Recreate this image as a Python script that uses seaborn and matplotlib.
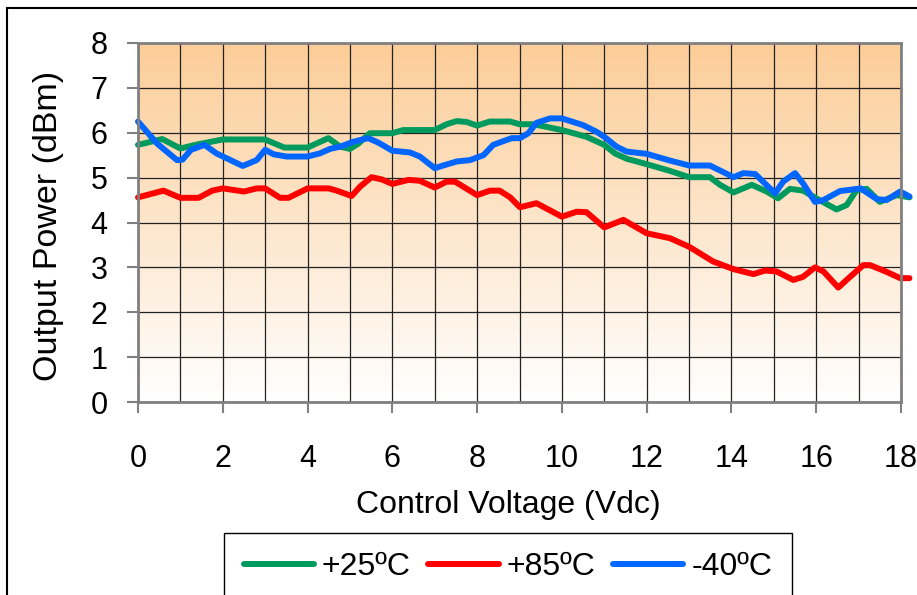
import numpy as np
import pandas as pd
import matplotlib
matplotlib.use("Agg")
import matplotlib.pyplot as plt
import seaborn as sns
from matplotlib.colors import LinearSegmentedColormap
from matplotlib.patches import Rectangle

# datos
v_25 = [0, 0.57, 1.0, 1.4, 2.0, 3.0, 3.45, 4.0, 4.49, 4.77, 5.0, 5.2, 5.47, 6.0, 6.26, 7.0,
        7.28, 7.52, 7.75, 8.0, 8.3, 8.78, 9.0, 9.33, 10.0, 10.58, 11.0, 11.25, 11.53, 12.0,
        12.55, 13.0, 13.49, 13.73, 14.05, 14.48, 14.83, 15.1, 15.38, 15.69, 16.0, 16.48,
        16.72, 16.95, 17.19, 17.5, 17.9, 18.2]
p_25 = [5.73, 5.86, 5.65, 5.74, 5.85, 5.85, 5.67, 5.67, 5.88, 5.69, 5.64, 5.76, 5.99, 5.99,
        6.06, 6.06, 6.19, 6.26, 6.24, 6.16, 6.25, 6.25, 6.19, 6.19, 6.06, 5.91, 5.73, 5.54,
        5.42, 5.30, 5.15, 5.01, 5.01, 4.84, 4.67, 4.84, 4.69, 4.54, 4.75, 4.71, 4.54, 4.29,
        4.39, 4.72, 4.75, 4.46, 4.61, 4.56]

v_85 = [0, 0.6, 1.0, 1.43, 1.75, 2.0, 2.5, 2.8, 3.0, 3.35, 3.55, 4.0, 4.5, 4.69, 5.04, 5.24,
        5.51, 5.75, 6.0, 6.38, 6.65, 7.0, 7.28, 7.48, 8.0, 8.3, 8.53, 8.78, 9.01, 9.4, 10.0,
        10.35, 10.58, 11.0, 11.45, 12.0, 12.55, 13.0, 13.26, 13.57, 14.05, 14.52, 14.79,
        15.06, 15.46, 15.69, 15.97, 16.17, 16.52, 16.8, 17.11, 17.27, 17.66, 17.98, 18.2]
p_85 = [4.56, 4.71, 4.55, 4.55, 4.71, 4.76, 4.69, 4.76, 4.76, 4.55, 4.55, 4.76, 4.76, 4.71,
        4.59, 4.80, 5.01, 4.96, 4.86, 4.95, 4.93, 4.78, 4.91, 4.91, 4.61, 4.71, 4.71, 4.56,
        4.34, 4.43, 4.13, 4.24, 4.23, 3.89, 4.06, 3.76, 3.65, 3.46, 3.31, 3.13, 2.96, 2.85,
        2.93, 2.91, 2.72, 2.79, 3.00, 2.91, 2.55, 2.79, 3.05, 3.05, 2.90, 2.76, 2.76]

v_m40 = [0, 0.45, 0.92, 1.05, 1.25, 1.57, 1.85, 2.47, 2.8, 3.0, 3.2, 3.5, 4.0, 4.29, 4.53,
         4.77, 5.08, 5.43, 5.67, 6.0, 6.42, 6.65, 7.0, 7.2, 7.52, 7.83, 8.15, 8.38, 8.58,
         8.82, 9.01, 9.21, 9.4, 9.72, 10.0, 10.5, 10.82, 11.0, 11.29, 11.53, 12.0, 12.55,
         13.0, 13.49, 14.05, 14.28, 14.56, 15.03, 15.22, 15.5, 15.69, 15.97, 16.17, 16.56,
         17.05, 17.43, 17.66, 17.98, 18.2]
p_m40 = [6.25, 5.76, 5.39, 5.40, 5.62, 5.73, 5.54, 5.26, 5.39, 5.62, 5.52, 5.47, 5.47, 5.54,
         5.64, 5.69, 5.80, 5.88, 5.78, 5.60, 5.56, 5.47, 5.21, 5.27, 5.36, 5.39, 5.50, 5.73,
         5.80, 5.88, 5.88, 5.99, 6.22, 6.32, 6.32, 6.17, 6.02, 5.91, 5.69, 5.58, 5.53, 5.38,
         5.27, 5.27, 5.01, 5.10, 5.08, 4.65, 4.91, 5.10, 4.87, 4.46, 4.50, 4.70, 4.76, 4.52,
         4.50, 4.69, 4.58]

series = ["+25ºC", "+85ºC", "-40ºC"]
colores = {"+25ºC": "#009A5E", "+85ºC": "#FF0000", "-40ºC": "#0066FF"}

df = pd.concat([
    pd.DataFrame({"v": v_25, "p": p_25, "temp": series[0]}),
    pd.DataFrame({"v": v_85, "p": p_85, "temp": series[1]}),
    pd.DataFrame({"v": v_m40, "p": p_m40, "temp": series[2]}),
], ignore_index=True)

sns.set_style("white")
plt.rcParams["font.family"] = ["Liberation Sans", "DejaVu Sans"]
plt.rcParams["text.color"] = "black"
plt.rcParams["axes.labelcolor"] = "black"

fig = plt.figure(figsize=(9.17, 5.95), dpi=100)
ax = fig.add_axes([138 / 917, 1 - 402 / 595, 763 / 917, 359 / 595])

# fondo degradado naranja -> blanco
grad = np.linspace(1, 0, 256).reshape(-1, 1)
cmap = LinearSegmentedColormap.from_list("fondo", ["#FFFFFF", "#FCCD98"])
ax.imshow(grad, cmap=cmap, extent=[0, 18, 0, 8], aspect="auto", zorder=0, origin="upper")

sns.lineplot(data=df, x="v", y="p", hue="temp", hue_order=series, palette=colores,
             estimator=None, sort=False, lw=4.3, ax=ax)
for ln in ax.lines:
    ln.set_clip_on(False)

ax.set_xlim(0, 18)
ax.set_ylim(0, 8)
ax.set_xticks(np.arange(0, 19, 2))
ax.set_xticks(np.arange(0, 19, 1), minor=True)
ax.set_yticks(np.arange(0, 9, 1))
ax.set_axisbelow(True)
ax.grid(True, which="both", color="#222222", lw=0.9)

ax.tick_params(axis="x", which="major", bottom=True, direction="out", length=8, width=1.5,
               color="#808080", labelcolor="black", pad=22, labelsize=22)
ax.tick_params(axis="x", which="minor", length=0)
ax.tick_params(axis="y", left=True, direction="out", length=8, width=1.5,
               color="#808080", labelcolor="black", pad=14, labelsize=22)
for s in ax.spines.values():
    s.set_color("#808080")
    s.set_linewidth(2)

ax.set_xlabel("Control Voltage (Vdc)", fontsize=23)
ax.set_ylabel("Output Power (dBm)", fontsize=24.5)
ax.xaxis.set_label_coords((508 - 138) / 763, (402 - 490) / 359)
ax.yaxis.set_label_coords((64 - 138) / 763, 0.49)

sns.move_legend(ax, "upper center", bbox_to_anchor=(508 / 917, 1 - 533 / 595),
                bbox_transform=fig.transFigure, ncol=3, title=None, fontsize=23,
                frameon=True, fancybox=False, edgecolor="black", framealpha=1,
                handlelength=2.2, handletextpad=0.25, columnspacing=0.55,
                borderpad=0.6, borderaxespad=0)
leg = ax.get_legend()
leg.get_frame().set_linewidth(1.0)
for h in leg.get_lines():
    h.set_linewidth(4.3)
for t in leg.get_texts():
    t.set_color("black")

# marco exterior
fig.patches.append(Rectangle((7 / 917, -0.5), 2, 1.5 - 8 / 595, transform=fig.transFigure,
                             fill=False, edgecolor="black", lw=1.5))

fig.savefig("out.png", dpi=100)
